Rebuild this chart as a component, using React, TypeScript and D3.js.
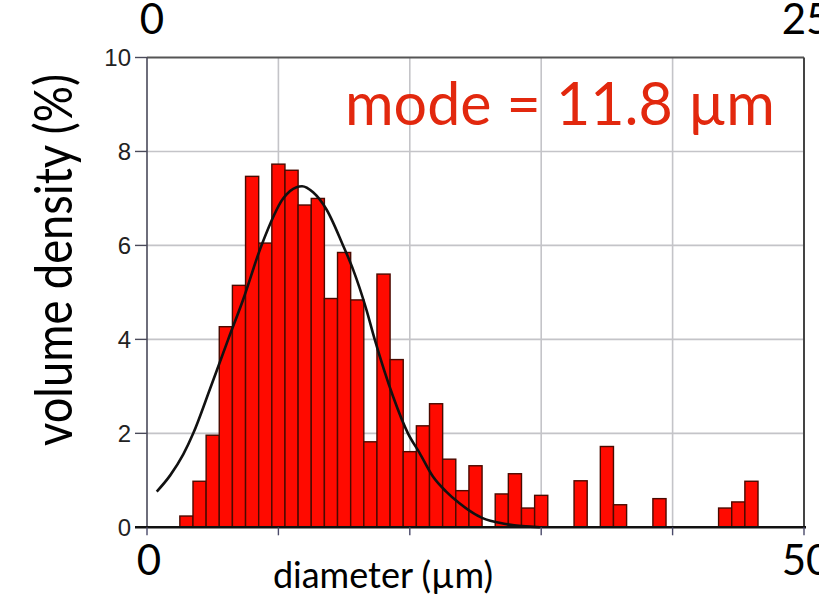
import React from "react";
import * as d3 from "d3";

// ---- data ----
const binCenters: number[] = [
  3, 4, 5, 6, 7, 8, 9, 10, 11, 12, 13, 14, 15, 16, 17, 18, 19, 20, 21, 22, 23, 24,
  25, 26, 27, 28, 29, 30, 31, 32, 33, 34, 35, 36, 37, 38, 39, 40, 41, 42, 43, 44, 45, 46,
];
const density: number[] = [
  0.24, 0.98, 1.96, 4.27, 5.15, 7.47, 6.05, 7.73, 7.6, 6.86, 7.0, 4.87, 5.85, 4.84,
  1.82, 5.39, 3.57, 1.61, 2.16, 2.63, 1.45, 0.78, 1.31, 0, 0.71, 1.14, 0.41, 0.68,
  0, 0, 0.99, 0, 1.72, 0.48, 0, 0, 0.61, 0, 0, 0, 0, 0.41, 0.54, 0.98,
];
const fitX: number[] = [
  0.74, 1.75, 2.76, 3.52, 4.8, 6.18, 7.32, 8.71, 10.36, 11.38, 11.8, 12.64, 13.65,
  14.92, 15.68, 16.69, 17.33, 18.72, 19.86, 20.75, 21.76, 22.77, 23.78, 25.5, 27.3, 29.9,
];
const fitY: number[] = [
  0.76, 1.1, 1.55, 2.0, 2.95, 4.0, 4.85, 6.0, 7.0, 7.24, 7.26, 7.13, 6.77,
  6.0, 5.49, 4.64, 4.0, 2.79, 2.0, 1.58, 1.08, 0.76, 0.51, 0.2, 0.07, 0.0,
];
const yTicks: number[] = [0, 2, 4, 6, 8, 10];
const xGrid: number[] = [10, 20, 30, 40];
const xTicks: number[] = [0, 10, 20, 30, 40, 50];
const bottomLabels: number[] = [0, 50];
const topLabels: string[] = ["0", "25"];
const modeText = "mode = 11.8 µm";
const xTitle = "diameter (µm)";
const yTitle = "volume density (%)";

const W = 819;
const H = 603;
const L = 147;
const R = 804;
const T = 57.5;
const B = 527.3;

export default function App() {
  const x = d3.scaleLinear().domain([0, 50]).range([L, R]);
  const y = d3.scaleLinear().domain([0, 10]).range([B, T]);
  const line = d3
    .line<number>()
    .x((_, i) => x(fitX[i]))
    .y((d) => y(d))
    .curve(d3.curveMonotoneX);
  const bigFont = "Lato, 'Open Sans', sans-serif";
  return (
    <svg
      width={W}
      height={H}
      style={{ position: "absolute", left: 0, top: 0, background: "#fff" }}
    >
      <rect x={0} y={0} width={W} height={H} fill="#fff" />
      {/* grid */}
      {xGrid.map((g) => (
        <line key={"gx" + g} x1={x(g)} x2={x(g)} y1={T} y2={B} stroke="#c4c4c8" strokeWidth={1.6} />
      ))}
      {yTicks.filter((t) => t > 0 && t < 10).map((t) => (
        <line key={"gy" + t} x1={L} x2={R} y1={y(t)} y2={y(t)} stroke="#c4c4c8" strokeWidth={1.6} />
      ))}
      {/* bars */}
      {binCenters.map((c, i) =>
        density[i] > 0 ? (
          <rect
            key={"b" + c}
            x={x(c - 0.5)}
            y={y(density[i])}
            width={x(c + 0.5) - x(c - 0.5)}
            height={B - y(density[i])}
            fill="#ff0a00"
            stroke="#4a0a00"
            strokeWidth={1.4}
          />
        ) : null
      )}
      {/* fit curve */}
      <path d={line(fitY) || ""} fill="none" stroke="#111" strokeWidth={2.6} strokeLinejoin="round" />
      {/* frame */}
      <line x1={L} x2={R} y1={T} y2={T} stroke="#555" strokeWidth={2} />
      <line x1={R} x2={R} y1={T} y2={B} stroke="#444" strokeWidth={2} />
      <line x1={L} x2={L} y1={T} y2={B} stroke="#4a4a5a" strokeWidth={1.6} />
      {/* y ticks */}
      {yTicks.map((t) => (
        <g key={"yt" + t}>
          <line x1={L - 12} x2={L} y1={y(t)} y2={y(t)} stroke="#4a4a5a" strokeWidth={1.4} />
          <text
            x={L - 16}
            y={y(t)}
            dy="0.36em"
            textAnchor="end"
            fontFamily="'Liberation Sans', Arial, sans-serif"
            fontSize={24}
            fill="#222"
          >
            {t}
          </text>
        </g>
      ))}
      {/* x axis */}
      <line x1={L - 12} x2={R + 2} y1={B} y2={B} stroke="#111" strokeWidth={2.4} />
      {xTicks.map((t) => (
        <line key={"xt" + t} x1={x(t)} x2={x(t)} y1={B} y2={B + 8} stroke="#4a4a6a" strokeWidth={1.4} />
      ))}
      {bottomLabels.map((t) => (
        <text key={"bl" + t} x={x(t) + 2} y={575} textAnchor="middle" fontFamily={bigFont} fontSize={42} fill="#000">
          {t}
        </text>
      ))}
      {topLabels.map((t, i) => (
        <text
          key={"tl" + t}
          x={i === 0 ? 152 : 806}
          y={34}
          textAnchor="middle"
          fontFamily={bigFont}
          fontSize={42}
          fill="#000"
        >
          {t}
        </text>
      ))}
      {/* titles */}
      <text x={383} y={588} textAnchor="middle" fontFamily={bigFont} fontSize={36} fill="#000">
        {xTitle}
      </text>
      <text
        transform="translate(72,260) rotate(-90) scale(1,1.25)"
        textAnchor="middle"
        fontFamily={bigFont}
        fontSize={42}
        fill="#000"
        textLength={372}
        lengthAdjust="spacingAndGlyphs"
      >
        {yTitle}
      </text>
      <text
        x={345}
        y={125}
        fontFamily={bigFont}
        fontSize={60}
        fill="#e2280e"
        textLength={430}
        lengthAdjust="spacingAndGlyphs"
      >
        {modeText}
      </text>
    </svg>
  );
}
